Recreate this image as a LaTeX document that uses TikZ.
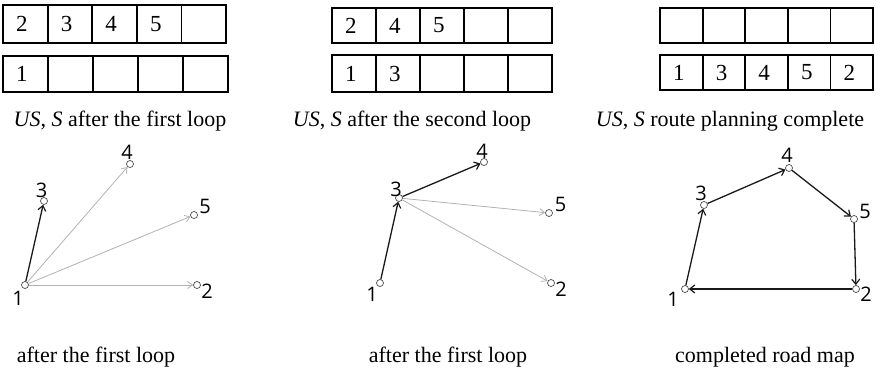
\documentclass[tikz,border=0pt]{standalone}
\usepackage{fontspec}
\setmainfont{Liberation Serif}
\newfontfamily\labfont{Open Sans}
\usetikzlibrary{arrows.meta}
\newcommand{\tabrow}[4]{% x0 x1 y0 y1
  \draw[tabline] (#1,#3) rectangle (#2,#4);
  \foreach \k in {1,...,4} {\draw[tabline] ({#1+\k*(#2-#1)/5},#3) -- ({#1+\k*(#2-#1)/5},#4);}
}
\begin{document}
\begin{tikzpicture}[x=1pt,y=-1pt,
  tabline/.style={line width=1.8pt},
  digit/.style={anchor=west,inner sep=0pt,font=\fontsize{23}{25}\selectfont},
  captxt/.style={anchor=base,inner sep=0pt,font=\fontsize{22}{24}\selectfont},
  vtx/.style={circle,draw=black!70,fill=white,line width=0.7pt,minimum size=7pt,inner sep=0pt},
  lab/.style={inner sep=0pt,font=\labfont\fontsize{20}{22}\selectfont},
  done/.style={draw=black!90,line width=1.3pt,-{Straight Barb[length=5pt,width=8pt,line width=1.2pt]}},
  cand/.style={draw=black!30,line width=0.8pt,-{Straight Barb[length=5pt,width=7pt]}},
]
\useasboundingbox (0,0) rectangle (882,372);

% ---------- tables ----------
\tabrow{3}{226}{5}{43}
\tabrow{3}{228}{56}{92}
\tabrow{332}{552}{8}{43}
\tabrow{332}{552}{55}{92}
\tabrow{660}{873}{8}{43}
\tabrow{660}{873}{55}{90}

\foreach \d [count=\i from 0] in {2,3,4,5}
  \node[digit] (aU\i) at ({3+\i*44.6+13},24) {\d};
\node[digit] (aS0) at (16,74) {1};

\foreach \d [count=\i from 0] in {2,4,5}
  \node[digit] (bU\i) at ({332+\i*44+13},25.5) {\d};
\foreach \d [count=\i from 0] in {1,3}
  \node[digit] (bS\i) at ({332+\i*44+13},73.5) {\d};

\foreach \d [count=\i from 0] in {1,3,4,5,2}
  \node[digit] (cS\i) at ({660+\i*42.6+13},72.5) {\d};

\node[captxt] (capA) at (120,126) {\textit{US}, \textit{S} after the first loop};
\node[captxt] (capB) at (412,126) {\textit{US}, \textit{S} after the second loop};
\node[captxt] (capC) at (730,126) {\textit{US}, \textit{S} route planning complete};

% ---------- graph 1 ----------
\node[vtx] (a1) at (25,285) {};
\node[vtx] (a3) at (44,201) {};
\node[vtx] (a4) at (130,164) {};
\node[vtx] (a5) at (194,215) {};
\node[vtx] (a2) at (197,285) {};
\draw[cand] (a1) -- (a4);
\draw[cand] (a1) -- (a5);
\draw[cand] (a1) -- (a2);
\draw[done] (a1) -- (a3);
\node[lab] (la1) at (18,298) {1};
\node[lab] (la3) at (41.5,190) {3};
\node[lab] (la4) at (127,152) {4};
\node[lab] (la5) at (205,206) {5};
\node[lab] (la2) at (207,291) {2};

% ---------- graph 2 ----------
\node[vtx] (b1) at (380,283) {};
\node[vtx] (b3) at (399,198) {};
\node[vtx] (b4) at (484,162) {};
\node[vtx] (b5) at (549,213) {};
\node[vtx] (b2) at (551,283) {};
\draw[cand] (b3) -- (b5);
\draw[cand] (b3) -- (b2);
\draw[done] (b1) -- (b3);
\draw[done] (b3) -- (b4);
\node[lab] (lb1) at (372,294) {1};
\node[lab] (lb3) at (396,189) {3};
\node[lab] (lb4) at (482,151) {4};
\node[lab] (lb5) at (560.5,204) {5};
\node[lab] (lb2) at (561,289) {2};

% ---------- graph 3 ----------
\node[vtx] (c1) at (685,289) {};
\node[vtx] (c3) at (704,205) {};
\node[vtx] (c4) at (789,168) {};
\node[vtx] (c5) at (854,219) {};
\node[vtx] (c2) at (856,289) {};
\draw[done] (c1) -- (c3);
\draw[done] (c3) -- (c4);
\draw[done] (c4) -- (c5);
\draw[done] (c5) -- (c2);
\draw[done] (c2) -- (c1);
\node[lab] (lc1) at (673,299) {1};
\node[lab] (lc3) at (701,193) {3};
\node[lab] (lc4) at (787,155) {4};
\node[lab] (lc5) at (865,211) {5};
\node[lab] (lc2) at (866,294) {2};

% ---------- bottom captions ----------
\node[captxt] (capD) at (96,362) {after the first loop};
\node[captxt] (capE) at (448,362) {after the first loop};
\node[captxt] (capF) at (765,362) {completed road map};
\end{tikzpicture}
\end{document}
